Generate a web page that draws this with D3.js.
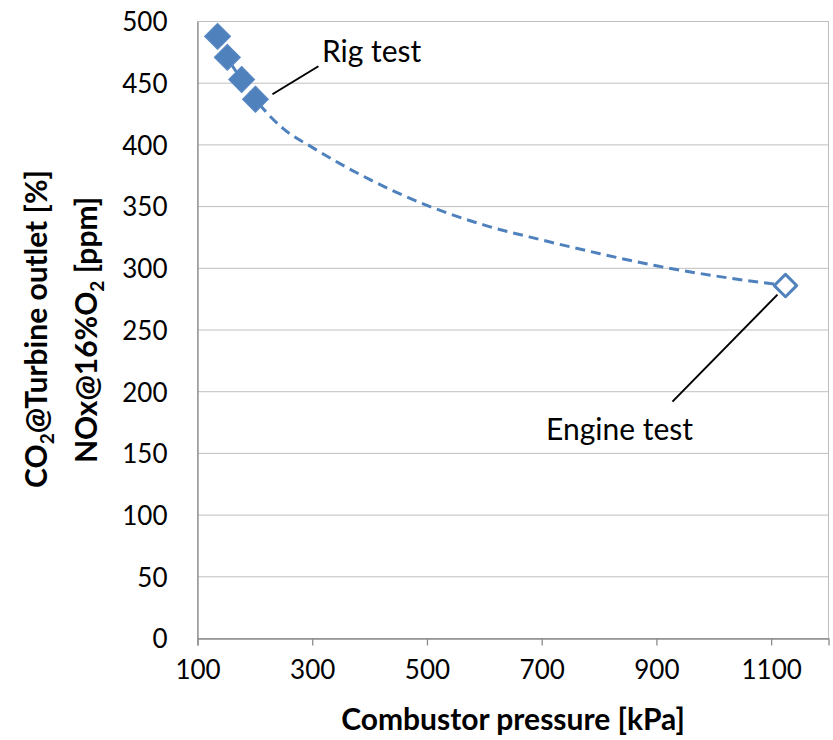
<!DOCTYPE html>
<html>
<head>
<meta charset="utf-8">
<script src="https://cdn.jsdelivr.net/npm/d3@7/dist/d3.min.js"></script>
<style>
  html, body { margin: 0; padding: 0; background: #fff; }
  svg { display: block; font-family: Lato, "Liberation Sans", sans-serif; }
</style>
</head>
<body>
<svg id="chart" width="833" height="740"></svg>
<script>
// Rig test measurements (combustor pressure kPa, NOx ppm)
const rigPressure = [135, 152, 177, 201];
const rigNox = [488, 471, 453, 437];

// Engine test measurement
const enginePressure = [1125];
const engineNox = [286];

// Trend curve through rig and engine results
const trendPressure = [135, 152, 177, 201, 250, 300, 400, 500, 600, 700, 800, 900, 1000, 1125];
const trendNox = [488, 471, 453, 437, 413, 398, 372, 351, 335, 323, 312, 302, 294, 286];

// Axis ticks
const xTicks = [100, 300, 500, 700, 900, 1100];
const yTicks = [0, 50, 100, 150, 200, 250, 300, 350, 400, 450, 500];

const blue = "#4F81BD";
const gridColor = "#BFBFBF";
const axisColor = "#8C8C8C";

const svg = d3.select("#chart");
const plot = { left: 197.5, right: 828.5, top: 21.5, bottom: 638.5 };

const x = d3.scaleLinear().domain([100, 1200]).range([plot.left, plot.right]);
const y = d3.scaleLinear().domain([0, 500]).range([plot.bottom, plot.top]);

// Horizontal gridlines
svg.append("g")
  .selectAll("line")
  .data(yTicks.filter(d => d > 0))
  .join("line")
  .attr("x1", plot.left).attr("x2", plot.right)
  .attr("y1", d => y(d)).attr("y2", d => y(d))
  .attr("stroke", gridColor).attr("stroke-width", 1);

// Plot-area frame
svg.append("rect")
  .attr("x", plot.left).attr("y", plot.top)
  .attr("width", plot.right - plot.left).attr("height", plot.bottom - plot.top)
  .attr("fill", "none").attr("stroke", gridColor).attr("stroke-width", 1);

// X axis
const xAxis = svg.append("g")
  .attr("transform", `translate(0,${plot.bottom})`)
  .call(d3.axisBottom(x).tickValues(xTicks).tickSize(7).tickPadding(14).tickFormat(d3.format("d")));
xAxis.select(".domain").attr("stroke", axisColor).attr("stroke-width", 1.3);
xAxis.selectAll(".tick line").attr("stroke", axisColor).attr("stroke-width", 1.3);
xAxis.selectAll(".tick text")
  .attr("font-size", 26).attr("fill", "#000").attr("font-family", "Lato, sans-serif")
  .attr("dy", "0.75em");

// Y axis
const yAxis = svg.append("g")
  .attr("transform", `translate(${plot.left},0)`)
  .call(d3.axisLeft(y).tickValues(yTicks).tickSize(0).tickPadding(30));
yAxis.select(".domain").attr("stroke", axisColor).attr("stroke-width", 1.3);
yAxis.selectAll(".tick text")
  .attr("font-size", 26).attr("fill", "#000").attr("font-family", "Lato, sans-serif")
  .attr("dy", "0.36em");

// Dashed trend curve
const trendData = trendPressure.map((p, i) => ({ p, v: trendNox[i] }));
svg.append("path")
  .datum(trendData)
  .attr("fill", "none")
  .attr("stroke", blue)
  .attr("stroke-width", 3)
  .attr("stroke-dasharray", "10,6")
  .attr("d", d3.line().x(d => x(d.p)).y(d => y(d.v)).curve(d3.curveMonotoneX));

// Rig test markers (filled diamonds)
const diamond = d3.symbol().type(d3.symbolSquare).size(340);
const rigData = rigPressure.map((p, i) => ({ p, v: rigNox[i] }));
svg.append("g")
  .selectAll("path")
  .data(rigData)
  .join("path")
  .attr("d", diamond)
  .attr("transform", d => `translate(${x(d.p)},${y(d.v)}) rotate(45)`)
  .attr("fill", blue)
  .attr("stroke", "#5A8AC6")
  .attr("stroke-width", 1)
  .attr("stroke-linejoin", "round");

// Engine test marker (hollow diamond)
const engineData = enginePressure.map((p, i) => ({ p, v: engineNox[i] }));
svg.append("g")
  .selectAll("path")
  .data(engineData)
  .join("path")
  .attr("d", d3.symbol().type(d3.symbolSquare).size(250))
  .attr("transform", d => `translate(${x(d.p)},${y(d.v)}) rotate(45)`)
  .attr("fill", "#fff")
  .attr("stroke", blue)
  .attr("stroke-width", 3)
  .attr("stroke-linejoin", "round");

// Annotations
const ann = svg.append("g").attr("font-family", "Lato, sans-serif").attr("fill", "#000");
ann.append("line")
  .attr("x1", x(rigPressure[3]) + 17).attr("y1", y(rigNox[3]) - 5)
  .attr("x2", x(rigPressure[3]) + 63).attr("y2", y(rigNox[3]) - 33)
  .attr("stroke", "#000").attr("stroke-width", 2);
ann.append("text")
  .attr("x", 322).attr("y", 62)
  .attr("font-size", 30)
  .text("Rig test");

ann.append("line")
  .attr("x1", x(enginePressure[0]) - 8).attr("y1", y(engineNox[0]) + 9)
  .attr("x2", x(enginePressure[0]) - 113).attr("y2", y(engineNox[0]) + 116)
  .attr("stroke", "#000").attr("stroke-width", 2);
ann.append("text")
  .attr("x", 546).attr("y", 440)
  .attr("font-size", 30)
  .text("Engine test");

// Axis titles
svg.append("text")
  .attr("x", 513).attr("y", 730)
  .attr("text-anchor", "middle")
  .attr("font-size", 30).attr("font-weight", "bold")
  .text("Combustor pressure [kPa]");

const yTitle1 = svg.append("text")
  .attr("transform", "translate(47,329) rotate(-90)")
  .attr("text-anchor", "middle")
  .attr("font-size", 30).attr("font-weight", "bold");
yTitle1.append("tspan").text("CO");
yTitle1.append("tspan").attr("font-size", 19).attr("dy", 7).text("2");
yTitle1.append("tspan").attr("dy", -7).text("@Turbine outlet [%]");

const yTitle2 = svg.append("text")
  .attr("transform", "translate(97,330) rotate(-90)")
  .attr("text-anchor", "middle")
  .attr("font-size", 30).attr("font-weight", "bold");
yTitle2.append("tspan").text("NOx@16%O");
yTitle2.append("tspan").attr("font-size", 19).attr("dy", 7).text("2");
yTitle2.append("tspan").attr("dy", -7).text(" [ppm]");
</script>
</body>
</html>
